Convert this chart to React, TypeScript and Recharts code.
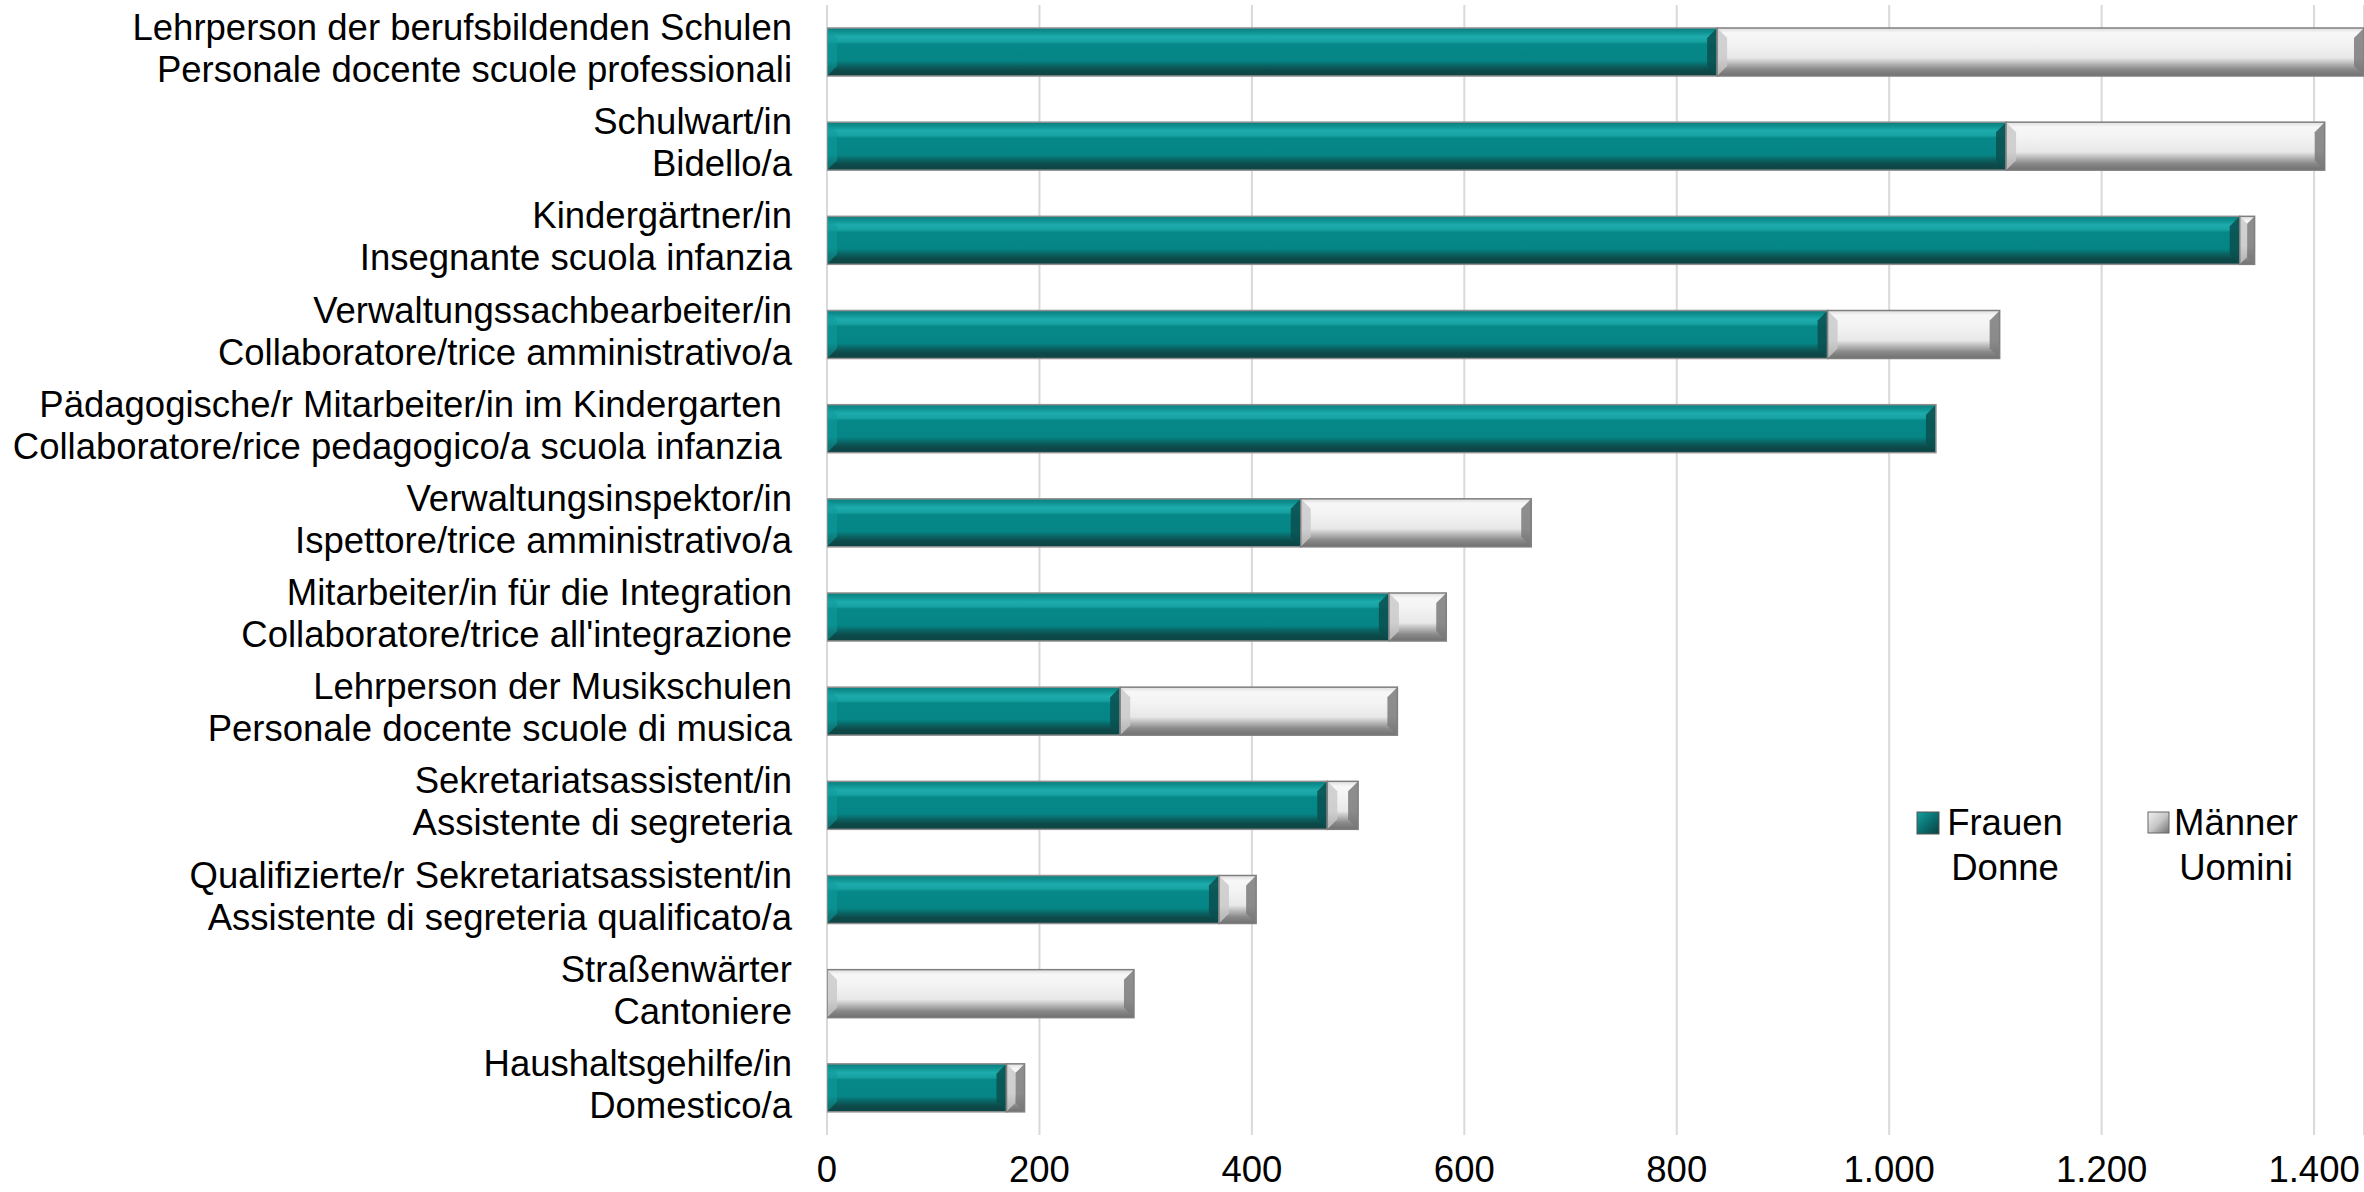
import React from 'react';
import { BarChart, Bar, XAxis, YAxis, CartesianGrid } from 'recharts';

const categoriesDe = [
  'Lehrperson der berufsbildenden Schulen',
  'Schulwart/in',
  'Kindergärtner/in',
  'Verwaltungssachbearbeiter/in',
  'Pädagogische/r Mitarbeiter/in im Kindergarten\u00A0',
  'Verwaltungsinspektor/in',
  'Mitarbeiter/in für die Integration',
  'Lehrperson der Musikschulen',
  'Sekretariatsassistent/in',
  'Qualifizierte/r Sekretariatsassistent/in',
  'Straßenwärter',
  'Haushaltsgehilfe/in',
];

const categoriesIt = [
  'Personale docente scuole professionali',
  'Bidello/a',
  'Insegnante scuola infanzia',
  'Collaboratore/trice amministrativo/a',
  'Collaboratore/rice pedagogico/a scuola infanzia\u00A0',
  'Ispettore/trice amministrativo/a',
  "Collaboratore/trice all'integrazione",
  'Personale docente scuole di musica',
  'Assistente di segreteria',
  'Assistente di segreteria qualificato/a',
  'Cantoniere',
  'Domestico/a',
];

const women = [838, 1110, 1330, 942, 1044, 446, 529, 276, 471, 369, 0, 169];
const men = [700, 300, 14, 162, 0, 217, 54, 261, 29, 35, 289, 17];

const xTicks = [0, 200, 400, 600, 800, 1000, 1200, 1400];

const legendWomen = ['Frauen', 'Donne'];
const legendMen = ['Männer', 'Uomini'];

const data = categoriesDe.map((de, i) => ({
  de,
  it: categoriesIt[i],
  women: women[i],
  men: men[i],
}));

const FONT = '"Liberation Sans", Arial, sans-serif';
const FS = 36.5;

const fmt = (v: number) =>
  v >= 1000 ? `${Math.floor(v / 1000)}.${String(v % 1000).padStart(3, '0')}` : String(v);

const TealBar = (props: any) => {
  const { x, y, width, height } = props;
  if (!width || width <= 0.5) return <g />;
  const b = Math.min(10, width / 2);
  return (
    <g>
      <rect x={x} y={y} width={width} height={height} fill="url(#tealGrad)" />
      <polygon
        points={`${x},${y} ${x + b},${y + b} ${x + b},${y + height - b} ${x},${y + height}`}
        fill="#0f9a9a"
        opacity={0.55}
      />
      <polygon
        points={`${x + width},${y} ${x + width - b},${y + b} ${x + width - b},${y + height - b} ${x + width},${y + height}`}
        fill="#0a4f4f"
        opacity={0.85}
      />
      <rect x={x} y={y} width={width} height={height} fill="none" stroke="#8f8f8f" strokeWidth={1.5} />
    </g>
  );
};

const GrayBar = (props: any) => {
  const { x, y, width, height } = props;
  if (!width || width <= 0.5) return <g />;
  const b = Math.min(10, width / 2);
  return (
    <g>
      <rect x={x} y={y} width={width} height={height} fill="url(#grayGrad)" />
      <polygon
        points={`${x},${y} ${x + b},${y + b} ${x + b},${y + height - b} ${x},${y + height}`}
        fill="#c8c8c8"
        opacity={0.8}
      />
      <polygon
        points={`${x + width},${y} ${x + width - b},${y + b} ${x + width - b},${y + height - b} ${x + width},${y + height}`}
        fill="#7a7a7a"
        opacity={0.85}
      />
      <rect x={x} y={y} width={width} height={height} fill="none" stroke="#7f7f7f" strokeWidth={1.5} />
    </g>
  );
};

const YTick = (props: any) => {
  const { x, y, payload } = props;
  const i = categoriesDe.indexOf(payload.value);
  return (
    <g>
      <text x={x} y={y - 12} textAnchor="end" fontSize={FS} fontFamily={FONT} fill="#000" style={{ whiteSpace: 'pre' }}>
        {categoriesDe[i]}
      </text>
      <text x={x} y={y + 30} textAnchor="end" fontSize={FS} fontFamily={FONT} fill="#000" style={{ whiteSpace: 'pre' }}>
        {categoriesIt[i]}
      </text>
    </g>
  );
};

const LegendOverlay = () => (
  <svg width={440} height={110} style={{ position: 'absolute', left: 1900, top: 790, overflow: 'visible' }}>
    <defs>
      <linearGradient id="legTeal" x1="0" y1="0" x2="1" y2="1">
        <stop offset="0%" stopColor="#14a0a0" />
        <stop offset="50%" stopColor="#0a7070" />
        <stop offset="100%" stopColor="#0a4040" />
      </linearGradient>
      <linearGradient id="legGray" x1="0" y1="0" x2="1" y2="1">
        <stop offset="0%" stopColor="#f0f0f0" />
        <stop offset="50%" stopColor="#c8c8c8" />
        <stop offset="100%" stopColor="#707070" />
      </linearGradient>
    </defs>
    <rect x={17} y={22} width={22} height={22} fill="url(#legTeal)" stroke="#555" strokeWidth={1} />
    <text x={105} y={45} textAnchor="middle" fontSize={FS} fontFamily={FONT} fill="#000">{legendWomen[0]}</text>
    <text x={105} y={90} textAnchor="middle" fontSize={FS} fontFamily={FONT} fill="#000">{legendWomen[1]}</text>
    <rect x={248} y={22} width={21} height={21} fill="url(#legGray)" stroke="#666" strokeWidth={1} />
    <text x={336} y={45} textAnchor="middle" fontSize={FS} fontFamily={FONT} fill="#000">{legendMen[0]}</text>
    <text x={336} y={90} textAnchor="middle" fontSize={FS} fontFamily={FONT} fill="#000">{legendMen[1]}</text>
  </svg>
);

export default function App() {
  return (
    <div style={{ position: 'absolute', left: 0, top: 0, width: 2364, height: 1192, background: '#fff', overflow: 'hidden' }}>
      <BarChart
        width={2364}
        height={1192}
        data={data}
        layout="vertical"
        margin={{ top: 5, right: 0, bottom: 0, left: 0 }}
        barSize={48}
        style={{ fontFamily: FONT }}
      >
        <defs>
          <linearGradient id="tealGrad" x1="0" y1="0" x2="0" y2="1">
            <stop offset="0%" stopColor="#0b7d7d" />
            <stop offset="10%" stopColor="#109595" />
            <stop offset="18%" stopColor="#1eabab" />
            <stop offset="28%" stopColor="#17a2a2" />
            <stop offset="33%" stopColor="#078888" />
            <stop offset="68%" stopColor="#058585" />
            <stop offset="78%" stopColor="#0a6464" />
            <stop offset="88%" stopColor="#0d4a4a" />
            <stop offset="100%" stopColor="#0e4444" />
          </linearGradient>
          <linearGradient id="grayGrad" x1="0" y1="0" x2="0" y2="1">
            <stop offset="0%" stopColor="#dedede" />
            <stop offset="10%" stopColor="#f7f7f7" />
            <stop offset="30%" stopColor="#f4f4f4" />
            <stop offset="62%" stopColor="#e8e8e8" />
            <stop offset="74%" stopColor="#b8b8b8" />
            <stop offset="86%" stopColor="#8a8a8a" />
            <stop offset="100%" stopColor="#707070" />
          </linearGradient>
        </defs>
        <CartesianGrid horizontal={false} stroke="#d9d9d9" strokeWidth={2} />
        <XAxis
          type="number"
          domain={[0, 1447]}
          allowDataOverflow
          ticks={xTicks}
          tickFormatter={fmt}
          tickLine={false}
          axisLine={false}
          tickSize={0}
          tickMargin={21}
          height={57}
          tick={{ fontSize: FS, fill: '#000', fontFamily: FONT }}
          interval={0}
        />
        <YAxis
          type="category"
          dataKey="de"
          width={827}
          tickLine={false}
          axisLine={false}
          tickSize={0}
          tickMargin={35}
          tick={<YTick />}
          interval={0}
        />
        <Bar dataKey="women" stackId="a" isAnimationActive={false} shape={(p: any) => <TealBar {...p} />} />
        <Bar dataKey="men" stackId="a" isAnimationActive={false} shape={(p: any) => <GrayBar {...p} />} />
      </BarChart>
      <LegendOverlay />
    </div>
  );
}
